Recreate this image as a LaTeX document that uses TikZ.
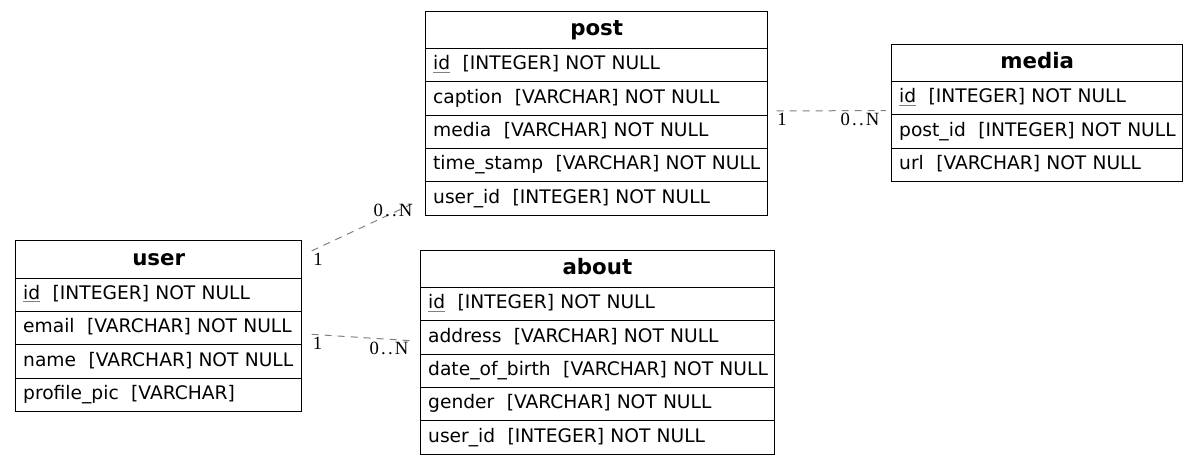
\documentclass[tikz,border=0pt]{standalone}
\usepackage{fontspec}
\setmainfont{DejaVu Sans}
\newfontfamily\cardfont[LetterSpace=12]{Liberation Serif}
\usetikzlibrary{positioning}
\tikzset{
  tbl/.style={draw,line width=0.75pt,inner ysep=0pt,outer sep=0pt},
  head/.style={tbl,inner xsep=5.6pt,text width=#1-11.2pt,text height=18.3pt,text depth=9.7pt,align=center,font=\fontsize{16}{19}\selectfont\bfseries},
  row/.style={tbl,inner xsep=0pt,text width=#1,text height=16pt,text depth=9pt,align=left,font=\fontsize{14}{17}\selectfont,execute at begin node={\hspace*{5.6pt}}},
  rel/.style={draw=gray,line width=0.75pt,dash pattern=on 5.25pt off 4.5pt},
  card/.style={inner sep=0pt,font=\fontsize{14}{17}\selectfont\cardfont}
}
\newcommand{\pkey}[1]{\textcolor{gray}{\underline{\textcolor{black}{#1}}}}
\begin{document}
\begin{tikzpicture}[x=0.75pt,y=-0.75pt]
\useasboundingbox (0,0) rectangle (1199,464);
% post
\node [head=256.5pt,anchor=north west,name=post] at (425.7,11) {post};
\node [row=256.5pt,below=0pt of post,name=post-id] {\pkey{id}~~[INTEGER] NOT NULL};
\node [row=256.5pt,below=0pt of post-id,name=post-caption] {caption~~[VARCHAR] NOT NULL};
\node [row=256.5pt,below=0pt of post-caption,name=post-media] {media~~[VARCHAR] NOT NULL};
\node [row=256.5pt,below=0pt of post-media,name=post-stamp] {time\_stamp~~[VARCHAR] NOT NULL};
\node [row=256.5pt,below=0pt of post-stamp,name=post-userid] {user\_id~~[INTEGER] NOT NULL};
% media
\node [head=218.25pt,anchor=north west,name=media] at (891.7,44.3) {media};
\node [row=218.25pt,below=0pt of media,name=media-id] {\pkey{id}~~[INTEGER] NOT NULL};
\node [row=218.25pt,below=0pt of media-id,name=media-postid] {post\_id~~[INTEGER] NOT NULL};
\node [row=218.25pt,below=0pt of media-postid,name=media-url] {url~~[VARCHAR] NOT NULL};
% user
\node [head=214.5pt,anchor=north west,name=user] at (15.7,240.7) {user};
\node [row=214.5pt,below=0pt of user,name=user-id] {\pkey{id}~~[INTEGER] NOT NULL};
\node [row=214.5pt,below=0pt of user-id,name=user-email] {email~~[VARCHAR] NOT NULL};
\node [row=214.5pt,below=0pt of user-email,name=user-name] {name~~[VARCHAR] NOT NULL};
\node [row=214.5pt,below=0pt of user-name,name=user-pic] {profile\_pic~~[VARCHAR]};
% about
\node [head=265pt,anchor=north west,name=about] at (420.7,250) {about};
\node [row=265pt,below=0pt of about,name=about-id] {\pkey{id}~~[INTEGER] NOT NULL};
\node [row=265pt,below=0pt of about-id,name=about-address] {address~~[VARCHAR] NOT NULL};
\node [row=265pt,below=0pt of about-address,name=about-birth] {date\_of\_birth~~[VARCHAR] NOT NULL};
\node [row=265pt,below=0pt of about-birth,name=about-gender] {gender~~[VARCHAR] NOT NULL};
\node [row=265pt,below=0pt of about-gender,name=about-userid] {user\_id~~[INTEGER] NOT NULL};
% relations
\draw[rel] ([xshift=7.5pt,yshift=6.4pt]user.east)--([xshift=-8pt,yshift=-3.2pt]post-userid.west);
\draw[rel] ([xshift=7.5pt,yshift=-4.7pt]user-email.east)--([xshift=-8pt,yshift=-2.5pt]about-address.west);
\draw[rel] ([xshift=6.75pt,yshift=-9.45pt]post-caption.east)--([xshift=-4.3pt,yshift=-9.2pt]media-id.west);
\node [card,name=c1] at (318,259) {1};
\node [card,name=c2] at (393,210) {0..N};
\node [card,name=c3] at (317.5,343.5) {1};
\node [card,name=c4] at (389,348.5) {0..N};
\node [card,name=c5] at (782,119) {1};
\node [card,name=c6] at (860,119) {0..N};
\end{tikzpicture}
\end{document}
